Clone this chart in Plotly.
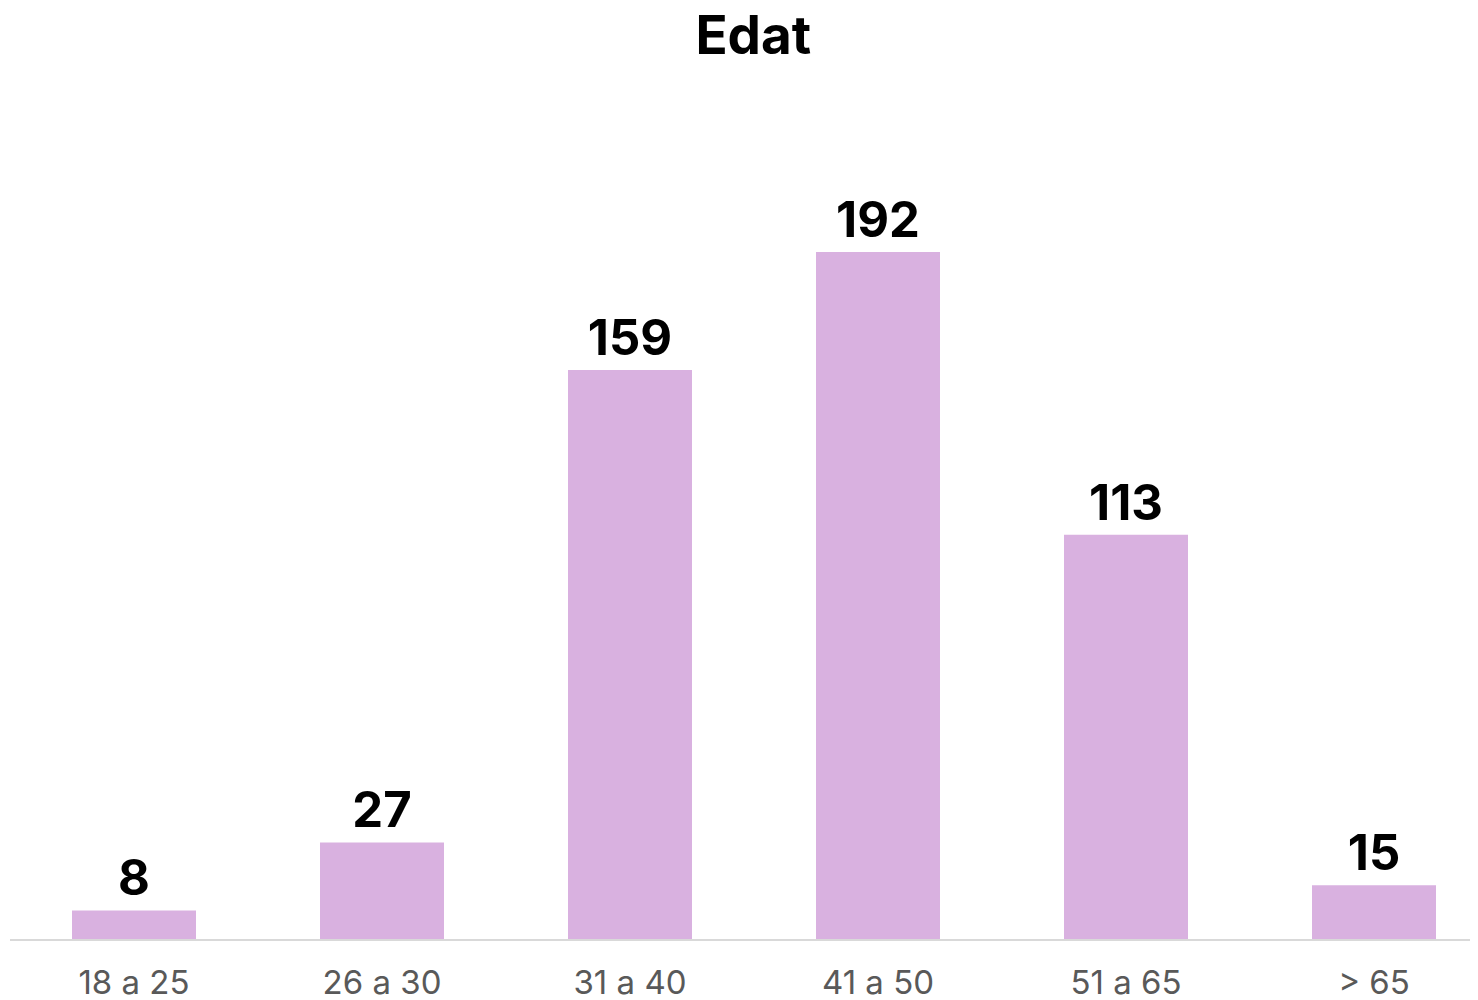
import plotly.graph_objects as go

categories = ["18 a 25", "26 a 30", "31 a 40", "41 a 50", "51 a 65", "> 65"]
values = [8, 27, 159, 192, 113, 15]
title_text = "Edat"

bar_color = "#D9B1E0"

fig = go.Figure(go.Bar(
    x=categories,
    y=values,
    marker=dict(color=bar_color, line=dict(width=0)),
    width=0.5,
    text=[str(v) for v in values],
    textposition="outside",
    textfont=dict(family="Inter, Roboto, sans-serif", size=49, color="#000000", weight="bold"),
    cliponaxis=False,
))

# page body has an 8px margin, so the figure is sized to fit the window
W, H = 1470, 992
ml, mr, mt, mb = 2, 0, 92, 61
plot_w = W - ml - mr
cat_px = 248
x_hi = -0.5 + plot_w / cat_px
px_per_unit = 3.578
y_hi = (H - mt - mb) / px_per_unit

fig.update_layout(
    width=W, height=H,
    margin=dict(l=ml, r=mr, t=mt, b=mb, autoexpand=False),
    paper_bgcolor="white", plot_bgcolor="white",
    title=dict(text="<b>" + title_text + "</b>", x=0.507, xanchor="center", y=0.972, yanchor="middle",
               font=dict(family="Inter, Roboto, sans-serif", size=53, color="#000000")),
    showlegend=False,
    xaxis=dict(
        range=[-0.5, x_hi],
        automargin=False,
        showgrid=False,
        showline=True, linecolor="#D9D9D9", linewidth=2,
        ticks="", ticklabelstandoff=13,
        tickfont=dict(family="Inter, Roboto, sans-serif", size=33, color="#595959"),
    ),
    yaxis=dict(range=[0, y_hi], visible=False, showgrid=False, zeroline=False, automargin=False),
)

fig.write_html("out.html")
